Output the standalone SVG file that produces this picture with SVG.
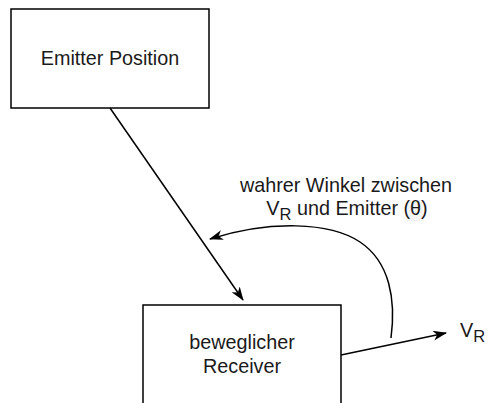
<svg xmlns="http://www.w3.org/2000/svg" width="489" height="403" viewBox="0 0 489 403">
  <style>
    .box { fill: #ffffff; stroke: #000000; stroke-width: 1.5; }
    .lbl { font-family: "Liberation Sans", Arial, sans-serif; font-size: 19.8px; fill: #1a1a1a; }
    .sub { font-size: 16.5px; }
    .edge { fill: none; stroke: #000000; stroke-width: 1.5; }
  </style>
  <defs>
    <marker id="arrow" viewBox="0 0 14 10" refX="13" refY="5" markerWidth="14" markerHeight="10" markerUnits="userSpaceOnUse" orient="auto">
      <path d="M0,0 L14,5 L0,10 L4,5 z" fill="#000000"/>
    </marker>
  </defs>
  <rect width="489" height="403" fill="#ffffff"/>

  <g id="emitter">
    <rect class="box" x="11" y="9" width="198" height="99"/>
    <text class="lbl" x="110" y="65" text-anchor="middle">Emitter Position</text>
  </g>

  <g id="receiver">
    <rect class="box" x="143" y="305" width="198" height="99"/>
    <text class="lbl" x="242" y="349" text-anchor="middle">beweglicher</text>
    <text class="lbl" x="242" y="373" text-anchor="middle">Receiver</text>
  </g>

  <g id="connectors">
    <path class="edge" d="M110,108 L243,300" marker-end="url(#arrow)"/>
    <path class="edge" d="M341,355 L446,333" marker-end="url(#arrow)"/>
    <path class="edge" d="M391,338 C396,300 390,262 360,242 C330,222 270,220 210,239" marker-end="url(#arrow)"/>
  </g>

  <g id="angle-label">
    <rect x="407" y="200" width="16" height="21" fill="#f4f4f4"/>
    <text class="lbl" x="346" y="192" text-anchor="middle">wahrer Winkel zwischen</text>
    <text class="lbl" x="347" y="215" text-anchor="middle">V<tspan class="sub" dy="5">R</tspan><tspan dy="-5"> und Emitter (θ)</tspan></text>
  </g>

  <g id="velocity-label">
    <text class="lbl" x="460" y="337">V<tspan class="sub" dy="5">R</tspan></text>
  </g>
</svg>
